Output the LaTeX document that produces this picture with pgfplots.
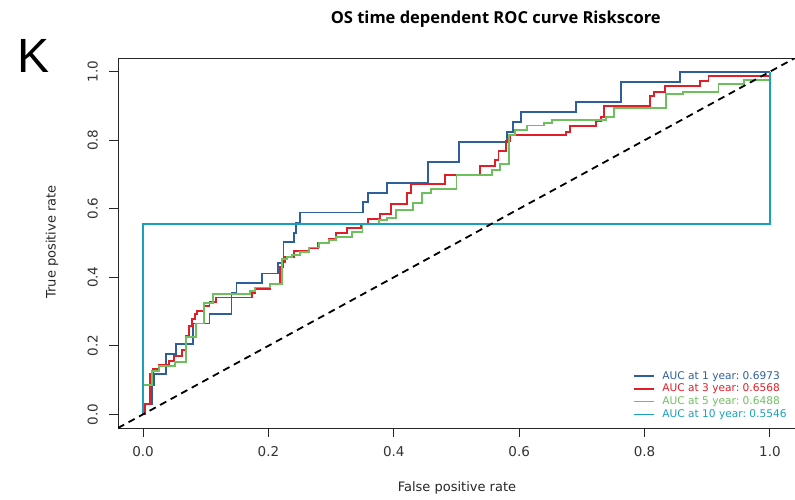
\documentclass[border=0pt]{standalone}
\usepackage{pgfplots}
\pgfplotsset{compat=1.18}
\usepackage{fontspec}
\setmainfont{DejaVu Sans}
\newfontfamily\titlefont{Open Sans}
\newfontfamily\panelfont{Liberation Sans}

\definecolor{cblue}{RGB}{45,95,155}
\definecolor{cred}{RGB}{225,30,40}
\definecolor{cgreen}{RGB}{110,192,95}
\definecolor{ccyan}{RGB}{25,160,190}

\begin{document}
\begin{tikzpicture}[x=1pt,y=1pt]
\path[use as bounding box] (0,0) rectangle (795,499);
\node[anchor=base west, inner sep=0pt, font=\panelfont\fontsize{48}{50}\selectfont] at (17,426) {K};
\begin{axis}[
  at={(118pt,71pt)}, anchor=south west,
  scale only axis, width=677pt, height=370pt,
  xmin=-0.04, xmax=1.04, ymin=-0.04, ymax=1.04,
  axis line style={line width=0.9pt, black!85},
  tick pos=left, tick align=outside, major tick length=9pt,
  tick style={line width=0.9pt, black!85},
  xtick={0,0.2,0.4,0.6,0.8,1}, ytick={0,0.2,0.4,0.6,0.8,1},
  xticklabels={0.0,0.2,0.4,0.6,0.8,1.0},
  yticklabels={0.0,0.2,0.4,0.6,0.8,1.0},
  ticklabel style={font=\fontsize{13.5}{16}\selectfont, text=black!80},
  xticklabel style={anchor=north, inner sep=0pt},
  xticklabel shift=9pt,
  yticklabel style={rotate=90, anchor=south, inner sep=0pt},
  yticklabel shift=11pt,
  xlabel={False positive rate},
  ylabel={True positive rate},
  label style={font=\fontsize{13}{15}\selectfont, text=black!85},
  xlabel style={at={(axis description cs:0.5007,-0.162)}, anchor=center},
  ylabel style={at={(axis description cs:-0.0975,0.503)}, anchor=center},
  title={OS time dependent ROC curve Riskscore},
  title style={at={(axis description cs:0.558,1.076)}, anchor=base,
    font=\titlefont\bfseries\fontsize{16.5}{19}\selectfont},
  legend cell align=left,
  legend style={at={(0.7607,0.0232)}, anchor=south west, draw=none, fill=none,
    inner sep=0pt, outer sep=0pt, row sep=3.6pt,
    font=\fontsize{10.6}{12}\selectfont,
    nodes={inner sep=0pt, anchor=west},
    /tikz/every odd column/.append style={column sep=8pt}},
  legend image code/.code={\draw[#1, line width=1.4pt] (0pt,0pt) -- (20pt,0pt);},
  every axis plot/.append style={line width=1.9pt, line join=miter},
]
% 1 year
\addplot[cblue] coordinates {
(0,0) (0,0.031) (0.0136,0.031) (0.0136,0.085) (0.017,0.085) (0.017,0.117)
(0.036,0.117) (0.036,0.175) (0.053,0.175) (0.053,0.205) (0.079,0.205)
(0.079,0.265) (0.106,0.265) (0.106,0.294) (0.141,0.294) (0.141,0.353)
(0.149,0.353) (0.149,0.382) (0.189,0.382) (0.189,0.411) (0.215,0.411)
(0.215,0.442) (0.224,0.442) (0.224,0.502) (0.241,0.502) (0.241,0.530)
(0.244,0.530) (0.244,0.559) (0.250,0.559) (0.250,0.589) (0.351,0.589)
(0.351,0.619) (0.359,0.619) (0.359,0.647) (0.389,0.647) (0.389,0.676)
(0.455,0.676) (0.455,0.736) (0.504,0.736) (0.504,0.794) (0.581,0.794)
(0.581,0.824) (0.590,0.824) (0.590,0.853) (0.603,0.853) (0.603,0.882)
(0.691,0.882) (0.691,0.911) (0.762,0.911) (0.762,0.970) (0.857,0.970)
(0.857,1.0) (1,1)
};
\addlegendentry{\textcolor{cblue}{AUC at 1 year:\ 0.6973}}
% 3 years
\addplot[cred] coordinates {
(0,0) (0.003,0) (0.003,0.03) (0.011,0.03) (0.011,0.117) (0.016,0.117)
(0.016,0.131) (0.025,0.131) (0.025,0.143) (0.041,0.143) (0.041,0.156)
(0.050,0.156) (0.050,0.170) (0.0625,0.170) (0.0625,0.187) (0.068,0.187)
(0.068,0.228) (0.073,0.228) (0.073,0.257) (0.078,0.257) (0.078,0.277)
(0.083,0.277) (0.083,0.292) (0.086,0.292) (0.086,0.302) (0.097,0.302)
(0.097,0.316) (0.106,0.316) (0.106,0.328) (0.117,0.328) (0.117,0.341)
(0.174,0.341) (0.174,0.353) (0.179,0.353) (0.179,0.365) (0.203,0.365)
(0.203,0.380) (0.219,0.380) (0.219,0.430) (0.224,0.430) (0.224,0.445)
(0.227,0.445) (0.227,0.458) (0.241,0.458) (0.241,0.476) (0.264,0.476)
(0.264,0.486) (0.279,0.486) (0.279,0.500) (0.296,0.500) (0.296,0.513)
(0.308,0.513) (0.308,0.528) (0.325,0.528) (0.325,0.543) (0.347,0.543)
(0.347,0.556) (0.359,0.556) (0.359,0.570) (0.378,0.570) (0.378,0.584)
(0.395,0.584) (0.395,0.614) (0.421,0.614) (0.421,0.645) (0.427,0.645)
(0.427,0.672) (0.482,0.672) (0.482,0.699) (0.537,0.699) (0.537,0.726)
(0.562,0.726) (0.562,0.741) (0.567,0.741) (0.567,0.769) (0.579,0.769)
(0.579,0.798) (0.585,0.798) (0.585,0.814) (0.674,0.814) (0.674,0.825)
(0.681,0.825) (0.681,0.841) (0.723,0.841) (0.723,0.855) (0.730,0.855)
(0.730,0.869) (0.735,0.869) (0.735,0.899) (0.809,0.899) (0.809,0.928)
(0.815,0.928) (0.815,0.942) (0.833,0.942) (0.833,0.957) (0.889,0.957)
(0.889,0.972) (0.902,0.972) (0.902,0.988) (1,0.988) (1,1)
};
\addlegendentry{\textcolor{cred}{AUC at 3 year:\ 0.6568}}
% 5 years
\addplot[cgreen] coordinates {
(0,0) (0,0.085) (0.014,0.085) (0.014,0.127) (0.025,0.127) (0.025,0.141)
(0.051,0.141) (0.051,0.153) (0.068,0.153) (0.068,0.226) (0.084,0.226)
(0.084,0.265) (0.097,0.265) (0.097,0.324) (0.111,0.324) (0.111,0.351)
(0.171,0.351) (0.171,0.361) (0.179,0.361) (0.179,0.370) (0.203,0.370)
(0.203,0.380) (0.222,0.380) (0.222,0.452) (0.229,0.452) (0.229,0.458)
(0.237,0.458) (0.237,0.465) (0.251,0.465) (0.251,0.475) (0.264,0.475)
(0.264,0.487) (0.280,0.487) (0.280,0.499) (0.296,0.499) (0.296,0.509)
(0.308,0.509) (0.308,0.517) (0.334,0.517) (0.334,0.533) (0.350,0.533)
(0.350,0.556) (0.376,0.556) (0.376,0.567) (0.389,0.567) (0.389,0.572)
(0.404,0.572) (0.404,0.596) (0.431,0.596) (0.431,0.618) (0.445,0.618)
(0.445,0.645) (0.459,0.645) (0.459,0.657) (0.500,0.657) (0.500,0.699)
(0.557,0.699) (0.557,0.713) (0.570,0.713) (0.570,0.731) (0.584,0.731)
(0.584,0.815) (0.594,0.815) (0.594,0.830) (0.613,0.830) (0.613,0.843)
(0.639,0.843) (0.639,0.850) (0.653,0.850) (0.653,0.860) (0.738,0.860)
(0.738,0.869) (0.751,0.869) (0.751,0.894) (0.834,0.894) (0.834,0.935)
(0.862,0.935) (0.862,0.942) (0.918,0.942) (0.918,0.964) (0.959,0.964)
(0.959,0.977) (1,0.977) (1,1)
};
\addlegendentry{\textcolor{cgreen}{AUC at 5 year:\ 0.6488}}
% 10 years
\addplot[ccyan] coordinates {
(0,0) (0,0.5546) (1,0.5546) (1,1)
};
\addlegendentry{\textcolor{ccyan}{AUC at 10 year:\ 0.5546}}
% chance line
\addplot[forget plot, black, line width=1.8pt, dash pattern=on 7pt off 5pt]
  coordinates {(-0.04,-0.04) (1.04,1.04)};
\end{axis}
\end{tikzpicture}
\end{document}
